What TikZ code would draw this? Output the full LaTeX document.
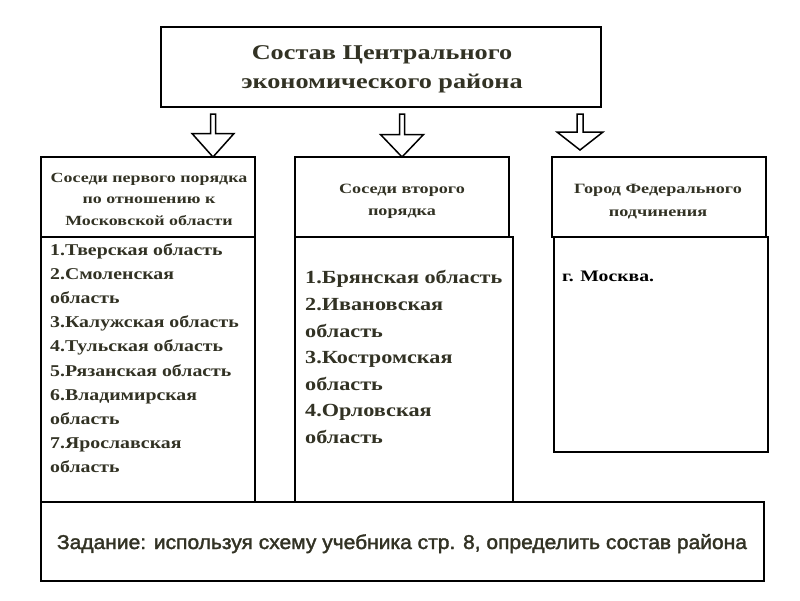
\documentclass[tikz,border=0pt]{standalone}
\usepackage{fontspec}
\setmainfont{Liberation Serif}
\newfontfamily\titleserif[FakeStretch=1.25]{Liberation Serif}
\newfontfamily\headserif[FakeStretch=1.28]{Liberation Serif}
\newfontfamily\cityserif[FakeStretch=1.23]{Liberation Serif}
\newfontfamily\listserif[FakeStretch=1.2]{Liberation Serif}
\newfontfamily\tasksans[FakeBold=1.8, FakeStretch=1.05]{Liberation Sans}
\definecolor{txt}{RGB}{50,50,36}
\tikzset{
  boxframe/.style={draw=black, line width=2pt, fill=white, outer sep=0pt, inner sep=0pt},
  arrowline/.style={draw=black, line width=1.5pt, fill=white, line join=miter},
  headtext/.style={align=center, text=txt, inner sep=0pt, anchor=base, font=\headserif\bfseries\fontsize{14.2}{22.5}\selectfont},
  listtext/.style={align=left, text=txt, inner sep=0pt, anchor=north west},
}
\begin{document}
\begin{tikzpicture}[x=1pt, y=-1pt]
\useasboundingbox (0,0) rectangle (800,600);
% title
\node[boxframe, minimum width=440pt, minimum height=80pt] (title) at (381,67) {};
\node[align=center, text=txt, inner sep=0pt, font=\titleserif\bfseries\fontsize{21}{29.5}\selectfont, anchor=base] (titletext) at (382,88.5)
  {Состав Центрального\\экономического района};
% column 1
\node[boxframe, minimum width=214pt, minimum height=265pt] (body1) at (148,369.5) {};
\node[boxframe, minimum width=214pt, minimum height=80pt] (head1) at (148,197) {};
\node[headtext, font=\headserif\bfseries\fontsize{14}{21.5}\selectfont] (head1text) at (149,225)
  {Соседи первого порядка\\по отношению к\\Московской области};
\node[listtext, font=\listserif\bfseries\fontsize{16.5}{24.1}\selectfont] (list1) at (50,243.5)
  {1.Тверская область\\2.Смоленская\\область\\3.Калужская область\\4.Тульская область\\5.Рязанская область\\6.Владимирская\\область\\7.Ярославская\\область};
% column 2
\node[boxframe, minimum width=218pt, minimum height=265pt] (body2) at (404,369.5) {};
\node[boxframe, minimum width=214pt, minimum height=80pt] (head2) at (402,197) {};
\node[headtext] (head2text) at (402,215.5)
  {Соседи второго\\порядка};
\node[listtext, font=\listserif\bfseries\fontsize{18.5}{26.6}\selectfont] (list2) at (305,270.5)
  {1.Брянская область\\2.Ивановская\\область\\3.Костромская\\область\\4.Орловская\\область};
% column 3
\node[boxframe, minimum width=214pt, minimum height=215pt] (body3) at (661,344.5) {};
\node[boxframe, minimum width=214pt, minimum height=80pt] (head3) at (659,197) {};
\node[headtext] (head3text) at (658,216)
  {Город Федерального\\подчинения};
\node[text=black, inner sep=0pt, anchor=base west, font=\cityserif\bfseries\fontsize{16}{20}\selectfont] (city) at (562,281)
  {г. Москва.};
% bottom
\node[boxframe, minimum width=723pt, minimum height=79pt] (task) at (402.5,541.5) {};
\node[text=txt, inner sep=0pt, anchor=base, font=\tasksans\fontsize{20}{24}\selectfont] (tasktext) at (402,549)
  {Задание: используя схему учебника стр. 8, определить состав района};
% arrows
\coordinate (a1) at (213,114);
\coordinate (a2) at (402,114);
\coordinate (a3) at (580,114);
\draw[arrowline] (a1) ++(-2.5,0) -- ++(0,19.5) -- ++(-18.5,0) -- (head1.north -| a1) -- ++(21,-23.5) -- ++(-18.5,0) -- ++(0,-19.5) -- cycle;
\draw[arrowline] (a2) ++(-2.5,0) -- ++(0,20.5) -- ++(-19,0) -- (head2.north -| a2) -- ++(21.5,-22.5) -- ++(-19,0) -- ++(0,-20.5) -- cycle;
\draw[arrowline] (a3) ++(-3,0) -- ++(0,18) -- ++(-20,0) -- ++(23,18) -- ++(23,-18) -- ++(-20,0) -- ++(0,-18) -- cycle;
\end{tikzpicture}
\end{document}
